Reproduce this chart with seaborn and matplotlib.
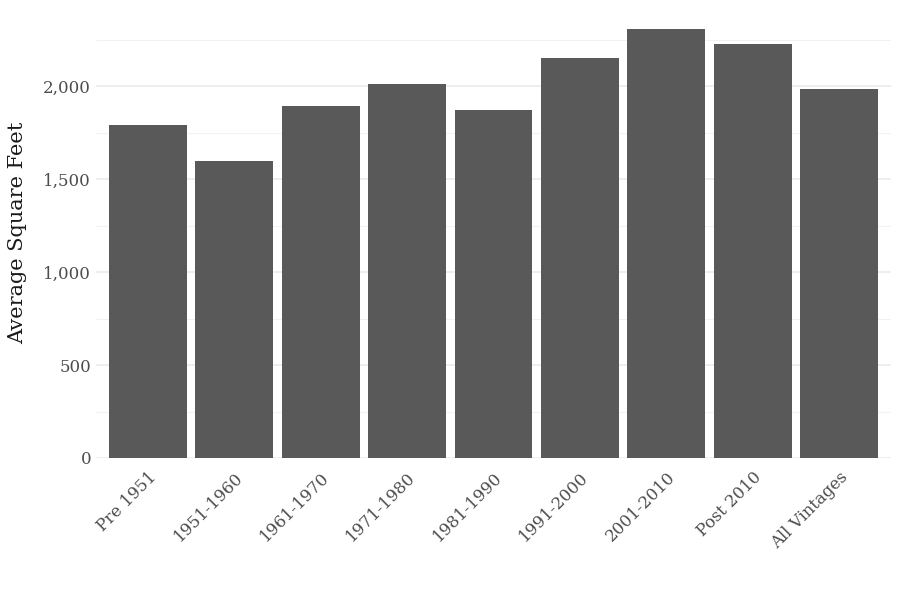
import matplotlib
matplotlib.use("Agg")
import matplotlib.pyplot as plt
import seaborn as sns
import pandas as pd
from matplotlib.ticker import FuncFormatter, MultipleLocator

# Average square feet by vintage
vintages = ['Pre 1951', '1951-1960', '1961-1970', '1971-1980', '1981-1990',
            '1991-2000', '2001-2010', 'Post 2010', 'All Vintages']
avg_sqft = [1790, 1597, 1892, 2011, 1871, 2151, 2306, 2226, 1984]

df = pd.DataFrame({'vintage': vintages, 'sqft': avg_sqft})

sns.set_theme(style='white')
plt.rcParams['font.family'] = ['DejaVu Serif', 'DejaVu Sans']

fig = plt.figure(figsize=(9, 6), dpi=100)
ax = fig.add_axes([0.1067, 0.2367, 0.8833, 0.75])

sns.barplot(data=df, x='vintage', y='sqft', color='#595959', saturation=1,
            width=0.9, ax=ax, zorder=3, linewidth=0)

ax.set_xlim(-0.6, len(vintages) - 0.4)
ax.set_ylim(0, max(avg_sqft) * 1.05)

ax.yaxis.set_major_locator(MultipleLocator(500))
ax.yaxis.set_minor_locator(MultipleLocator(250))
ax.yaxis.set_major_formatter(FuncFormatter(lambda v, p: f'{int(v):,}'))
ax.grid(which='major', axis='y', color='#ebebeb', linewidth=1.2, zorder=0)
ax.grid(which='minor', axis='y', color='#f2f2f2', linewidth=0.8, zorder=0)
ax.set_axisbelow(True)

for s in ax.spines.values():
    s.set_visible(False)
ax.tick_params(axis='both', length=0, labelsize=12, labelcolor='#4d4d4d')
ax.tick_params(axis='x', pad=8)
plt.setp(ax.get_xticklabels(), rotation=45, ha='right', rotation_mode='anchor')

ax.set_xlabel('')
ax.set_ylabel('Average Square Feet', fontsize=15, color='#1a1a1a', labelpad=12)

fig.savefig('out.png', dpi=100)
